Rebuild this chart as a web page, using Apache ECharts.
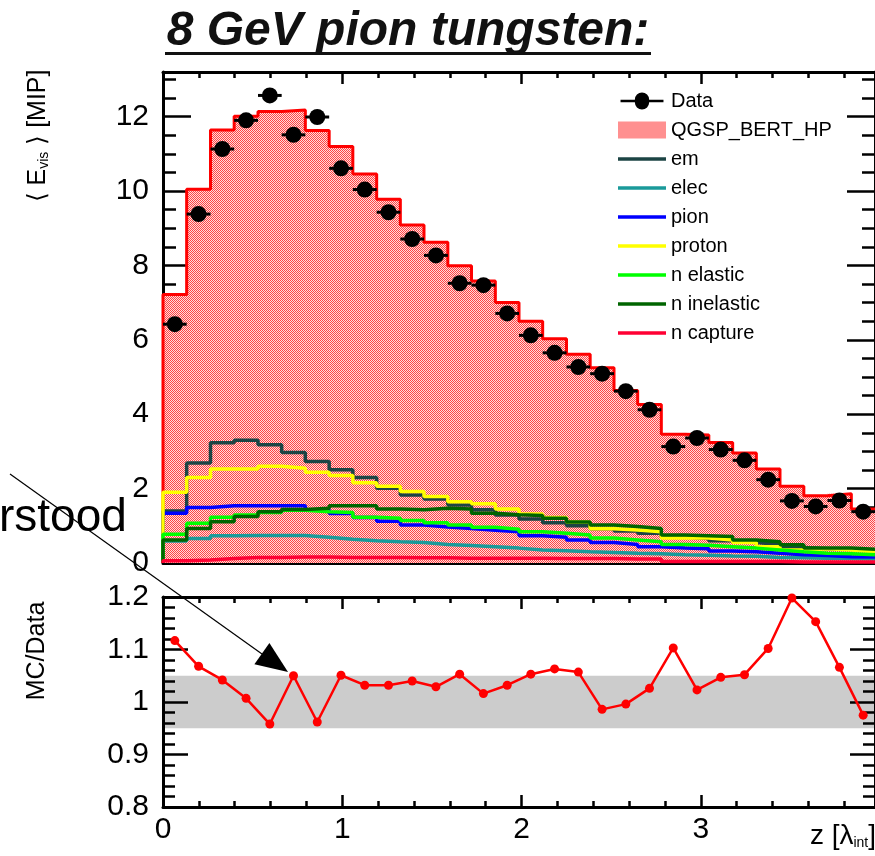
<!DOCTYPE html>
<html><head><meta charset="utf-8">
<script src="https://cdn.jsdelivr.net/npm/echarts@6/dist/echarts.min.js"></script>
<style>html,body{margin:0;padding:0;background:#fff;}#c{width:875px;height:856px;}</style>
</head><body><div id="c"></div>
<script>
// bin edges along z [lambda_int] (30 layers)
const binEdges = [0, 0.132, 0.265, 0.397, 0.530, 0.662, 0.794, 0.927, 1.059, 1.192, 1.324, 1.456, 1.589, 1.721, 1.854, 1.986, 2.118, 2.251, 2.383, 2.516, 2.648, 2.780, 2.913, 3.045, 3.178, 3.310, 3.442, 3.575, 3.707, 3.840, 3.972];
const dataValues = [6.42, 9.38, 11.13, 11.90, 12.57, 11.51, 11.99, 10.61, 10.04, 9.43, 8.71, 8.27, 7.52, 7.47, 6.71, 6.12, 5.65, 5.27, 5.09, 4.62, 4.12, 3.13, 3.36, 3.05, 2.76, 2.24, 1.67, 1.52, 1.68, 1.38];
const mcValues = [7.22, 10.05, 11.64, 12.01, 12.14, 12.18, 11.63, 11.20, 10.46, 9.78, 9.09, 8.62, 7.99, 7.58, 7.00, 6.50, 6.03, 5.61, 5.25, 4.64, 4.26, 3.46, 3.44, 3.24, 2.96, 2.53, 2.06, 1.81, 1.86, 1.45];
const emValues = [1.40, 2.69, 3.23, 3.30, 3.18, 2.97, 2.73, 2.51, 2.30, 2.01, 1.83, 1.72, 1.56, 1.43, 1.29, 1.18, 1.08, 1.00, 0.92, 0.86, 0.80, 0.70, 0.66, 0.60, 0.55, 0.50, 0.42, 0.38, 0.36, 0.33];
const elecValues = [0.59, 0.66, 0.73, 0.74, 0.74, 0.74, 0.69, 0.64, 0.60, 0.57, 0.55, 0.50, 0.47, 0.44, 0.40, 0.35, 0.33, 0.30, 0.28, 0.26, 0.25, 0.22, 0.21, 0.19, 0.18, 0.15, 0.14, 0.13, 0.12, 0.11];
const pionValues = [1.34, 1.49, 1.54, 1.54, 1.54, 1.54, 1.43, 1.33, 1.22, 1.12, 1.02, 0.97, 0.93, 0.88, 0.84, 0.73, 0.69, 0.62, 0.55, 0.50, 0.44, 0.40, 0.38, 0.32, 0.30, 0.26, 0.22, 0.20, 0.17, 0.16];
const protonValues = [1.90, 2.30, 2.53, 2.53, 2.60, 2.55, 2.44, 2.35, 2.16, 2.06, 1.92, 1.79, 1.65, 1.59, 1.45, 1.32, 1.22, 1.10, 0.92, 0.89, 0.84, 0.67, 0.67, 0.62, 0.55, 0.44, 0.35, 0.38, 0.35, 0.30];
const nElasticValues = [0.77, 1.07, 1.23, 1.29, 1.36, 1.42, 1.38, 1.36, 1.23, 1.20, 1.14, 1.08, 1.02, 0.96, 0.91, 0.84, 0.80, 0.75, 0.67, 0.62, 0.57, 0.50, 0.48, 0.44, 0.40, 0.35, 0.30, 0.26, 0.25, 0.22];
const nInelasticValues = [0.62, 0.93, 1.11, 1.25, 1.38, 1.44, 1.47, 1.54, 1.54, 1.45, 1.43, 1.47, 1.45, 1.34, 1.30, 1.28, 1.20, 1.10, 1.02, 0.98, 0.93, 0.75, 0.73, 0.71, 0.62, 0.57, 0.49, 0.40, 0.40, 0.37];
const nCaptureValues = [0.06, 0.08, 0.12, 0.15, 0.15, 0.16, 0.16, 0.15, 0.15, 0.15, 0.14, 0.14, 0.13, 0.13, 0.13, 0.13, 0.12, 0.12, 0.12, 0.11, 0.11, 0.04, 0.04, 0.04, 0.04, 0.04, 0.03, 0.03, 0.03, 0.03];
const ratioValues = [1.117, 1.068, 1.042, 1.007, 0.958, 1.050, 0.962, 1.051, 1.032, 1.032, 1.040, 1.029, 1.053, 1.016, 1.032, 1.053, 1.063, 1.057, 0.986, 0.996, 1.026, 1.103, 1.023, 1.047, 1.052, 1.102, 1.198, 1.153, 1.066, 0.975];
const componentNames = ['em', 'elec', 'pion', 'proton', 'n elastic', 'n inelastic', 'n capture'];
const componentColors = ['#1c4444', '#1a9a9a', '#0000ff', '#ffff00', '#00ff00', '#006400', '#ff0033'];
const componentValues = [emValues, elecValues, pionValues, protonValues, nElasticValues, nInelasticValues, nCaptureValues];

const FONT = '"Liberation Sans", Arial, Helvetica, sans-serif';

// dotted red hatch like ROOT fill style
const pc = document.createElement('canvas'); pc.width = 2; pc.height = 2;
const pctx = pc.getContext('2d');
pctx.fillStyle = '#ffdcdc'; pctx.fillRect(0, 0, 2, 2);
pctx.fillStyle = '#ff4444'; pctx.fillRect(0, 0, 1, 1); pctx.fillRect(1, 1, 1, 1);
const hatch = { image: pc, repeat: 'repeat' };

function histPoints(vals) {
  const pts = [[binEdges[0], 0]];
  vals.forEach((v, i) => pts.push([binEdges[i], v]));
  pts.push([binEdges[vals.length], vals[vals.length - 1]]);
  return pts;
}
const centers = binEdges.slice(0, -1).map((e, i) => (e + binEdges[i + 1]) / 2);

function xAx(grid, pos, labels) {
  return {
    type: 'value', gridIndex: grid, position: pos, min: 0, max: 3.972, interval: 1,
    z: grid === 1 ? 3 : 0,
    axisLine: { show: true, onZero: false, lineStyle: { color: '#000', width: 3 } },
    axisTick: { show: true, inside: true, length: 12, lineStyle: { color: '#000', width: 2.5 } },
    minorTick: { show: true, splitNumber: 5, length: 6, lineStyle: { color: '#000', width: 2.5 } },
    axisLabel: { show: labels, showMaxLabel: false, fontSize: 30, fontFamily: FONT, color: '#000', margin: 8 },
    splitLine: { show: false }, minorSplitLine: { show: false }
  };
}
function yAx(grid, pos, labels, min, max, interval, split, major, minor, showMax) {
  return {
    type: 'value', gridIndex: grid, position: pos, min: min, max: max, interval: interval,
    z: grid === 1 ? 3 : 0,
    axisLine: { show: true, onZero: false, lineStyle: { color: '#000', width: 3 } },
    axisTick: { show: true, inside: true, length: major, lineStyle: { color: '#000', width: 2.5 } },
    minorTick: { show: true, splitNumber: split, length: minor, lineStyle: { color: '#000', width: 2.5 } },
    axisLabel: { show: labels, showMaxLabel: showMax, fontSize: 30, fontFamily: FONT, color: '#000', margin: 14 },
    splitLine: { show: false }
  };
}

const series = [];
// hatched MC fill, one rectangle per bin
series.push({
  name: 'QGSP_BERT_HP', type: 'custom', xAxisIndex: 0, yAxisIndex: 0, z: 1,
  itemStyle: { color: hatch },
  encode: { x: [0, 1], y: 2 },
  data: mcValues.map((v, i) => [binEdges[i], binEdges[i + 1], v]),
  renderItem: function (params, api) {
    const a = api.coord([api.value(0), api.value(2)]);
    const b = api.coord([api.value(1), 0]);
    return { type: 'rect', shape: { x: a[0], y: a[1], width: b[0] - a[0] + 0.5, height: b[1] - a[1] }, style: { fill: hatch } };
  }
});
series.push({
  name: 'mcOutline', type: 'line', xAxisIndex: 0, yAxisIndex: 0, step: 'end', symbol: 'none', z: 2,
  lineStyle: { color: '#ff0000', width: 3 },
  data: histPoints(mcValues)
});
componentNames.forEach((n, k) => {
  series.push({
    name: n, type: 'line', xAxisIndex: 0, yAxisIndex: 0, step: 'end', symbol: 'none', z: 3,
    itemStyle: { color: componentColors[k] },
    lineStyle: { color: componentColors[k], width: 3.5 },
    data: histPoints(componentValues[k])
  });
});
series.push({
  name: 'Data', type: 'custom', xAxisIndex: 0, yAxisIndex: 0, z: 6,
  itemStyle: { color: '#000' },
  encode: { x: 0, y: 1 },
  data: dataValues.map((v, i) => [centers[i], v, binEdges[i], binEdges[i + 1]]),
  renderItem: function (params, api) {
    const c = api.coord([api.value(0), api.value(1)]);
    const l = api.coord([api.value(2), api.value(1)]);
    const r = api.coord([api.value(3), api.value(1)]);
    return {
      type: 'group', children: [
        { type: 'line', shape: { x1: l[0], y1: c[1], x2: r[0], y2: c[1] }, style: { stroke: '#000', lineWidth: 3 } },
        { type: 'circle', shape: { cx: c[0], cy: c[1], r: 8 }, style: { fill: '#000' } }
      ]
    };
  }
});
series.push({
  name: 'band', type: 'line', xAxisIndex: 2, yAxisIndex: 2, z: 1, symbol: 'none', data: [],
  markArea: { silent: true, itemStyle: { color: '#cccccc' }, data: [[{ yAxis: 0.95, xAxis: 0 }, { yAxis: 1.05, xAxis: 3.972 }]] }
});
series.push({
  name: 'ratio', type: 'line', xAxisIndex: 2, yAxisIndex: 2, z: 5,
  symbol: 'circle', symbolSize: 9, itemStyle: { color: '#ff0000' },
  lineStyle: { color: '#ff0000', width: 2.5 },
  data: ratioValues.map((v, i) => [centers[i], v])
});

const lineIcon = 'path://M0,0 H48 V3.5 H0 Z';
const legendData = [
  { name: 'Data', icon: 'path://M0,5.5 H16 A8,8 0 0 1 32,5.5 H48 V8.5 H32 A8,8 0 0 1 16,8.5 H0 Z', itemStyle: { color: '#000' } },
  { name: 'QGSP_BERT_HP', icon: 'path://M0,0 H48 V17 H0 Z', itemStyle: { color: hatch } }
].concat(componentNames.map((n, k) => ({ name: n, icon: lineIcon, itemStyle: { color: componentColors[k] } })));

const chart = echarts.init(document.getElementById('c'), null, { renderer: 'canvas' });
chart.setOption({
  animation: false,
  backgroundColor: '#ffffff',
  grid: [
    { left: 163, top: 72, width: 717, height: 491 },
    { left: 163, top: 597, width: 717, height: 210 }
  ],
  xAxis: [xAx(0, 'bottom', false), xAx(0, 'top', false), xAx(1, 'bottom', true), xAx(1, 'top', false)],
  yAxis: [
    yAx(0, 'left', true, 0, 13.2, 2, 4, 28, 13, false),
    yAx(0, 'right', false, 0, 13.2, 2, 4, 28, 13, false),
    yAx(1, 'left', true, 0.8, 1.2, 0.1, 5, 25, 12, true),
    yAx(1, 'right', false, 0.8, 1.2, 0.1, 5, 25, 12, true)
  ],
  legend: {
    orient: 'vertical', left: 613, top: 86, itemWidth: 48, itemHeight: 17, itemGap: 9,
    textStyle: { fontSize: 20, lineHeight: 20, fontFamily: FONT, color: '#000' },
    data: legendData
  },
  series: series,
  graphic: [
    { type: 'text', x: 408, y: 32, z: 10, style: { text: '8 GeV pion tungsten:', font: 'italic bold 48px ' + FONT, fill: '#111', textAlign: 'center', textVerticalAlign: 'middle' } },
    { type: 'rect', shape: { x: 165, y: 52, width: 486, height: 3 }, style: { fill: '#111' } },
    { type: 'text', x: 38, y: 136, rotation: Math.PI / 2, z: 10,
      style: { text: '⟨ E{s|vis} ⟩ [MIP]', font: '25px ' + FONT, fill: '#000', textAlign: 'center', textVerticalAlign: 'middle',
        rich: { s: { fontSize: 14, fontFamily: FONT, padding: [13, 0, 0, 0] } } } },
    { type: 'text', x: 37, y: 651, rotation: Math.PI / 2, z: 10,
      style: { text: 'MC/Data', font: '25px ' + FONT, fill: '#000', textAlign: 'center', textVerticalAlign: 'middle' } },
    { type: 'text', x: 876, y: 836, z: 10,
      style: { text: 'z [λ{s|int}]', font: '28px ' + FONT, fill: '#000', textAlign: 'right', textVerticalAlign: 'middle',
        rich: { s: { fontSize: 14, fontFamily: FONT, padding: [15, 0, 0, 0] } } } },
    { type: 'text', x: -1, y: 518, z: 10, style: { text: 'rstood', font: '46px ' + FONT, fill: '#000', textAlign: 'left', textVerticalAlign: 'middle' } },
    { type: 'line', z: 10, shape: { x1: 10, y1: 474, x2: 262, y2: 654 }, style: { stroke: '#000', lineWidth: 1.2 } },
    { type: 'polygon', z: 10, shape: { points: [[288, 672], [254.4, 664.2], [269.4, 643.0]] }, style: { fill: '#000' } }
  ]
});
</script></body></html>
